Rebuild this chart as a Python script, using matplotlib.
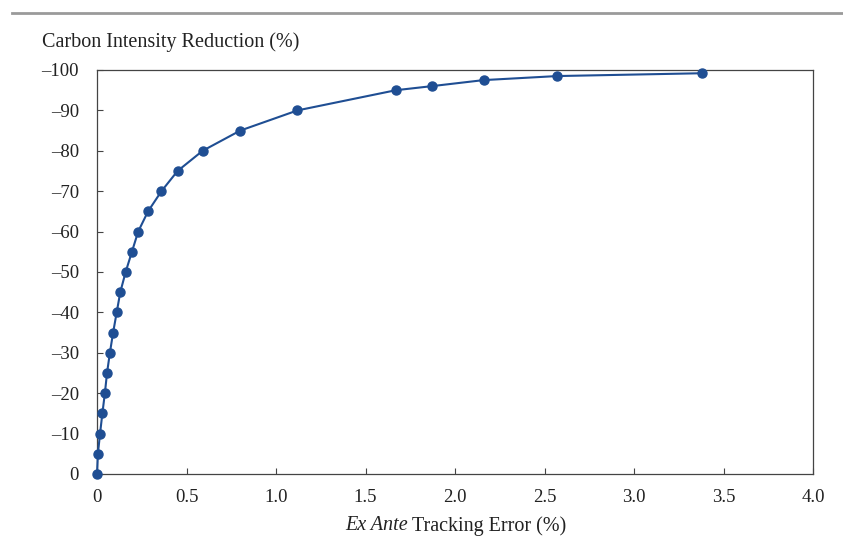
import matplotlib
matplotlib.use("Agg")
import matplotlib.pyplot as plt
from matplotlib.lines import Line2D

# Data
tracking_error = [0.0, 0.005, 0.017, 0.03, 0.044, 0.056, 0.072, 0.09, 0.11, 0.13,
                  0.16, 0.195, 0.23, 0.285, 0.36, 0.45, 0.59, 0.80, 1.12, 1.67,
                  1.87, 2.16, 2.57, 3.38]
carbon_reduction = [0, -5, -10, -15, -20, -25, -30, -35, -40, -45,
                    -50, -55, -60, -65, -70, -75, -80, -85, -90, -95,
                    -96, -97.5, -98.5, -99.2]

x_ticks = [0, 0.5, 1.0, 1.5, 2.0, 2.5, 3.0, 3.5, 4.0]
x_ticklabels = ["0", "0.5", "1.0", "1.5", "2.0", "2.5", "3.0", "3.5", "4.0"]
y_ticks = [0, -10, -20, -30, -40, -50, -60, -70, -80, -90, -100]
y_ticklabels = ["0", "–10", "–20", "–30", "–40", "–50", "–60", "–70", "–80", "–90", "–100"]

blue = "#1f4e93"
txt = "#222222"

plt.rcParams["font.family"] = ["Liberation Serif", "DejaVu Serif"]

fig = plt.figure(figsize=(8.43, 5.47), dpi=100)
ax = fig.add_axes([97 / 843, 1 - 474 / 547, 716 / 843, 404 / 547])

ax.plot(tracking_error, carbon_reduction, "-o", color=blue, lw=1.5,
        markersize=6.5, clip_on=False, zorder=3)

ax.set_xlim(0, 4)
ax.set_ylim(0, -100)
ax.set_xticks(x_ticks)
ax.set_xticklabels(x_ticklabels)
ax.set_yticks(y_ticks)
ax.set_yticklabels(y_ticklabels)
ax.tick_params(direction="in", length=4, width=0.8, color="#444444",
               labelsize=13.5, pad=11, labelcolor=txt)
ax.tick_params(axis="y", pad=13)
for s in ax.spines.values():
    s.set_color("#444444")
    s.set_linewidth(0.9)

# x label: "Ex Ante" italic, rest upright
fig.text(408 / 843, 1 - 526 / 547, "Ex Ante", style="italic",
         ha="right", va="center", fontsize=14.5, color=txt)
fig.text(412 / 843, 1 - 526 / 547, "Tracking Error (%)",
         ha="left", va="center", fontsize=14.5, color=txt)

fig.text(42 / 843, 1 - 42 / 547, "Carbon Intensity Reduction (%)",
         ha="left", va="center", fontsize=14.5, color=txt)

fig.add_artist(Line2D([12 / 843, 1], [1 - 13 / 547, 1 - 13 / 547],
                      color="#9a9a9a", lw=2, transform=fig.transFigure))

fig.savefig("out.png", dpi=100)
